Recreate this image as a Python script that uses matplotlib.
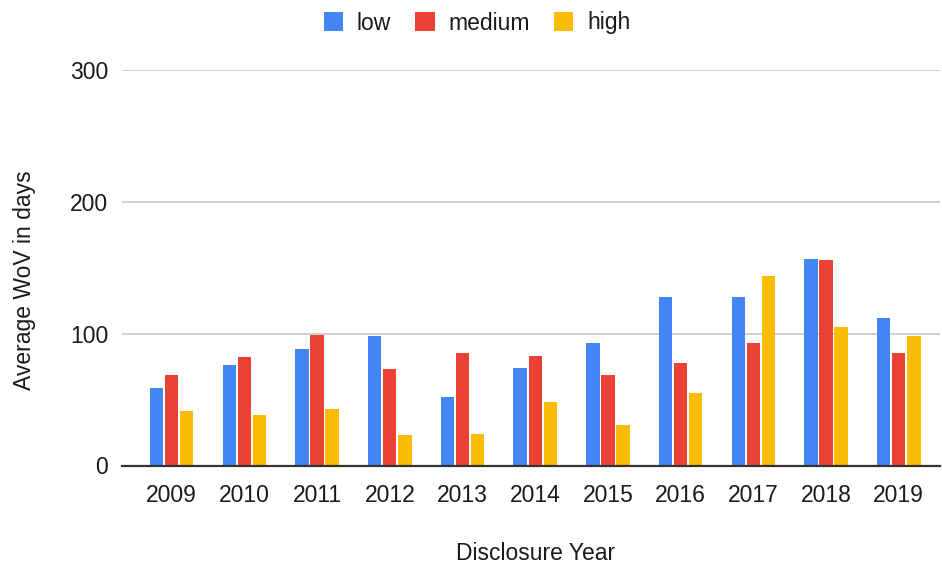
import matplotlib
matplotlib.use("Agg")
import matplotlib.pyplot as plt
import numpy as np

years = ["2009", "2010", "2011", "2012", "2013", "2014", "2015", "2016", "2017", "2018", "2019"]
low = [59, 76, 88, 98, 52, 74, 93, 128, 128, 157, 112]
medium = [69, 82, 99, 73, 85, 83, 69, 78, 93, 156, 85]
high = [41, 38, 43, 23, 24, 48, 31, 55, 144, 105, 98]
series_names = ["low", "medium", "high"]
colors = ["#4285F4", "#EA4335", "#FBBC04"]
yticks = [0, 100, 200, 300]

plt.rcParams['font.family'] = ['Liberation Sans', 'DejaVu Sans']
fig = plt.figure(figsize=(9.42, 5.66), dpi=100)
ax = fig.add_axes([122/942, 1-465.5/566, 818/942, (465.5-70)/566])

x = np.arange(len(years))
pitch = 0.207
width = 0.184
for i, (vals, name, c) in enumerate(zip([low, medium, high], series_names, colors)):
    ax.bar(x + (i-1)*pitch, vals, width=width, color=c, label=name, zorder=3)

ax.set_xlim(-0.683, 10.567)
ax.set_ylim(0, 300)
ax.set_yticks(yticks)
ax.set_yticklabels([str(t) for t in yticks], fontsize=16.5, color="#1a1a1a")
ax.set_xticks(x)
ax.set_xticklabels(years, fontsize=16.5, color="#1a1a1a")
ax.tick_params(axis='both', length=0)
ax.tick_params(axis='y', pad=10)
ax.tick_params(axis='x', pad=13)
ax.grid(axis='y', color="#cccccc", linewidth=1.3, zorder=0)
for s in ["top", "right", "left"]:
    ax.spines[s].set_visible(False)
ax.spines["bottom"].set_color("#333333")
ax.spines["bottom"].set_linewidth(1.6)
ax.spines["bottom"].set_zorder(4)

fig.text(25/942, 1-280/566, "Average WoV in days", rotation=90, fontsize=16.5,
         ha='center', va='center', color="#1a1a1a")
fig.text(535.5/942, 1-553/566, "Disclosure Year", fontsize=16.5,
         ha='center', va='center', color="#1a1a1a")

leg = fig.legend(loc='center', bbox_to_anchor=(477/942, 1-23/566), ncol=3, frameon=False,
                 fontsize=16.5, handlelength=0.85, handleheight=0.85,
                 handletextpad=0.6, columnspacing=1.05, labelcolor="#1a1a1a")

fig.savefig("out.png", dpi=100)
